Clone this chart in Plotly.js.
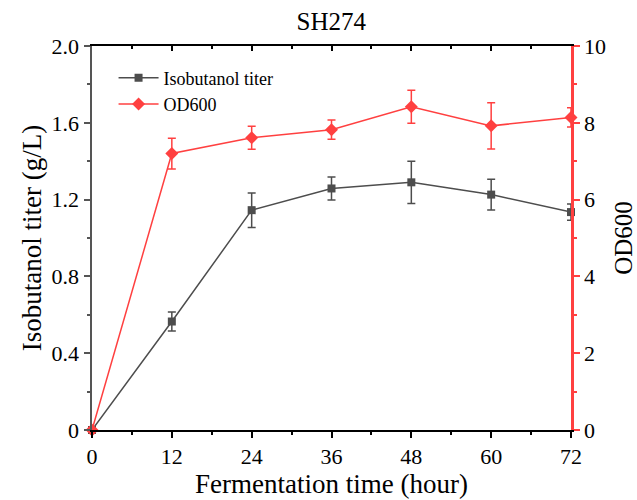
<!DOCTYPE html>
<html>
<head>
<meta charset="utf-8">
<script src="https://cdn.plot.ly/plotly-3.0.1.min.js"></script>
<style>html,body{margin:0;padding:0;background:#fff;}#chart{width:637px;height:500px;}</style>
</head>
<body>
<div id="chart"></div>
<script>
const hours = [0, 12, 24, 36, 48, 60, 72];
const isobutanolTiter = [0, 0.565, 1.145, 1.258, 1.29, 1.226, 1.135];
const isobutanolErr = [0, 0.05, 0.09, 0.06, 0.11, 0.08, 0.042];
const od600 = [0, 7.2, 7.61, 7.82, 8.42, 7.92, 8.14];
const od600Err = [0, 0.4, 0.3, 0.25, 0.43, 0.6, 0.25];
const xTicks = [0, 12, 24, 36, 48, 60, 72];
const yLeftTicks = [0, 0.4, 0.8, 1.2, 1.6, 2.0];
const yLeftLabels = ['0', '0.4', '0.8', '1.2', '1.6', '2.0'];
const yRightTicks = [0, 2, 4, 6, 8, 10];

const FONT = 'Liberation Serif';
const GRAY = '#4d4d4d';
const RED = '#ff4040';

const traces = [
  {
    x: hours, y: isobutanolTiter, name: 'Isobutanol titer',
    type: 'scatter', mode: 'lines+markers', xaxis: 'x', yaxis: 'y',
    line: {color: GRAY, width: 1.5},
    marker: {symbol: 'square', size: 8, color: GRAY},
    error_y: {type: 'data', array: isobutanolErr, visible: true, color: GRAY, thickness: 1.5, width: 4},
    cliponaxis: false
  },
  {
    x: hours, y: od600, name: 'OD600',
    type: 'scatter', mode: 'lines+markers', xaxis: 'x', yaxis: 'y2',
    line: {color: RED, width: 1.5},
    marker: {symbol: 'diamond', size: 10, color: RED},
    error_y: {type: 'data', array: od600Err, visible: true, color: RED, thickness: 1.5, width: 4},
    cliponaxis: false
  },
  {
    x: [0], y: [0], xaxis: 'x2', yaxis: 'y', mode: 'none', type: 'scatter',
    showlegend: false, hoverinfo: 'skip'
  }
];

const layout = {
  width: 637, height: 500,
  margin: {l: 92, r: 66, t: 46, b: 70},
  paper_bgcolor: '#fff', plot_bgcolor: '#fff',
  font: {family: FONT, color: '#000', size: 22},
  title: {text: 'SH274', font: {family: FONT, size: 25, color: '#000'}, x: 0.52, xanchor: 'center', y: 0.958, yanchor: 'middle'},
  showlegend: true,
  legend: {x: 0.045, y: 0.965, xanchor: 'left', yanchor: 'top', bgcolor: 'rgba(0,0,0,0)',
           font: {family: FONT, size: 18, color: '#000'}, tracegroupgap: 0, itemwidth: 40},
  xaxis: {
    range: [0, 72], tickmode: 'array', tickvals: xTicks, ticktext: xTicks.map(String),
    showgrid: false, zeroline: false, showline: true, linecolor: '#000', linewidth: 2,
    ticks: 'outside', ticklen: 6, tickwidth: 2, tickcolor: '#000',
    minor: {dtick: 6, tick0: 0, ticks: 'outside', ticklen: 3, tickwidth: 2, tickcolor: '#000', showgrid: false},
    tickfont: {family: FONT, size: 22},
    title: {text: 'Fermentation time (hour)', font: {family: FONT, size: 27}, standoff: 6}
  },
  xaxis2: {
    range: [0, 72], overlaying: 'x', side: 'top', tickmode: 'array', tickvals: xTicks,
    showticklabels: false, showgrid: false, zeroline: false, showline: true, linecolor: '#000', linewidth: 2,
    ticks: 'inside', ticklen: 5, tickwidth: 2, tickcolor: '#000',
    minor: {dtick: 6, tick0: 0, ticks: 'inside', ticklen: 3, tickwidth: 2, tickcolor: '#000', showgrid: false}
  },
  yaxis: {
    range: [0, 2.0], tickmode: 'array', tickvals: yLeftTicks, ticktext: yLeftLabels,
    showgrid: false, zeroline: false, showline: true, linecolor: '#555', linewidth: 2.5,
    ticks: 'outside', ticklen: 6, tickwidth: 2, tickcolor: '#555',
    minor: {dtick: 0.2, tick0: 0, ticks: 'outside', ticklen: 3, tickwidth: 2, tickcolor: '#555', showgrid: false},
    tickfont: {family: FONT, size: 22},
    title: {text: 'Isobutanol titer (g/L)', font: {family: FONT, size: 27}, standoff: 2}
  },
  yaxis2: {
    range: [0, 10], overlaying: 'y', side: 'right', tickmode: 'array', tickvals: yRightTicks,
    ticktext: yRightTicks.map(String),
    showgrid: false, zeroline: false, showline: true, linecolor: RED, linewidth: 2.5,
    ticks: 'outside', ticklen: 6, tickwidth: 2, tickcolor: RED,
    minor: {dtick: 1, tick0: 0, ticks: 'outside', ticklen: 3, tickwidth: 2, tickcolor: RED, showgrid: false},
    tickfont: {family: FONT, size: 22, color: '#000'},
    title: {text: 'OD600', font: {family: FONT, size: 25, color: '#000'}, standoff: 10}
  }
};

Plotly.newPlot('chart', traces, layout, {staticPlot: true, displayModeBar: false});
</script>
</body>
</html>
